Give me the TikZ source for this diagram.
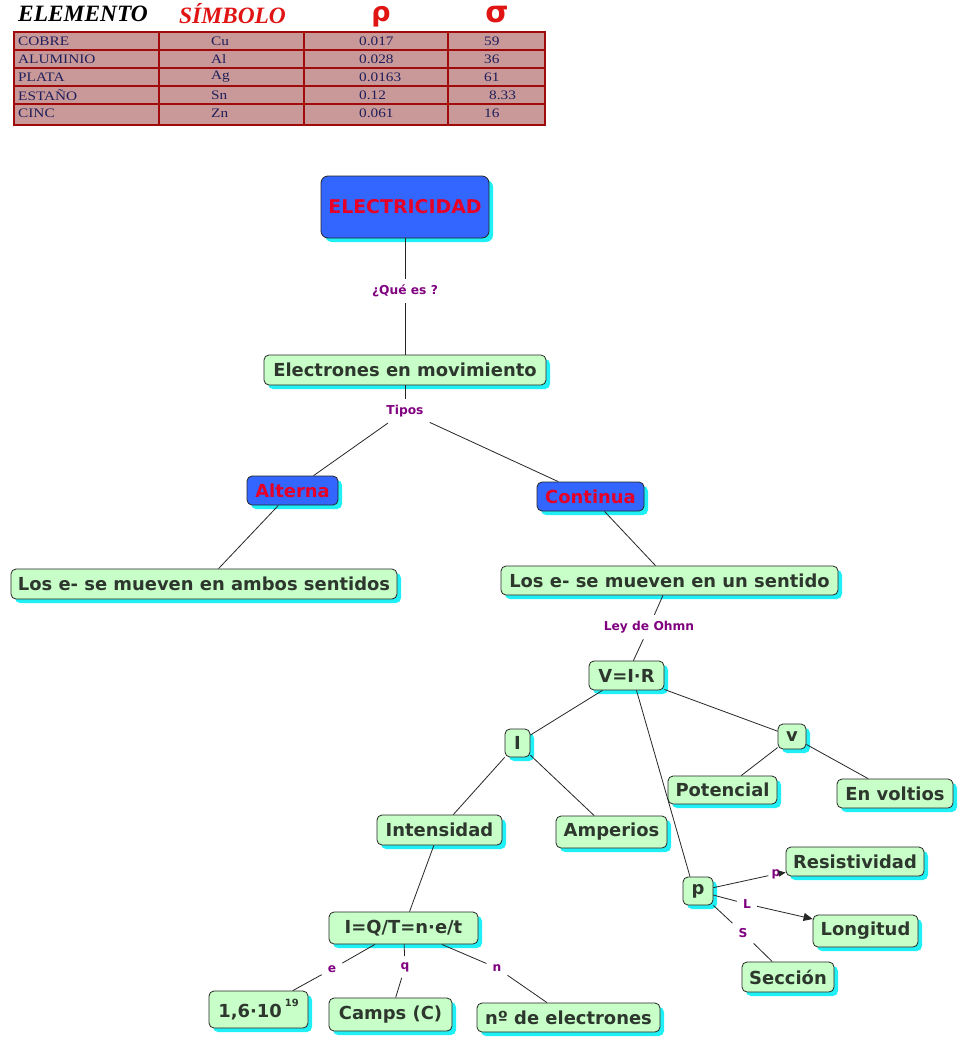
\documentclass[tikz,border=0pt]{standalone}
\usepackage{fontspec}
\setmainfont{DejaVu Sans}
\newfontfamily\tabfont[FakeStretch=1.18]{Liberation Serif}
\newfontfamily\headfont{Liberation Serif}
\usetikzlibrary{shadows,arrows.meta}
\definecolor{nodegreen}{RGB}{200,255,200}
\definecolor{nodeblue}{RGB}{51,102,255}
\definecolor{nodered}{RGB}{230,0,40}
\definecolor{shadowcyan}{RGB}{30,240,245}
\definecolor{lblpurple}{RGB}{128,0,128}
\definecolor{txtgray}{RGB}{45,55,45}
\definecolor{tabfill}{RGB}{201,153,153}
\definecolor{tabline}{RGB}{160,10,10}
\definecolor{tabtext}{RGB}{30,30,90}
\definecolor{headred}{RGB}{225,20,20}
\begin{document}
\begin{tikzpicture}[x=1bp,y=-1bp,
  concept/.style={draw=black!85, line width=0.8bp, rounded corners=5bp, fill=nodegreen, text=txtgray,
    font=\fontsize{18}{21}\selectfont\bfseries, inner sep=0pt,
    drop shadow={shadow xshift=4bp, shadow yshift=-4bp, fill=shadowcyan, opacity=1}},
  bluebox/.style={concept, fill=nodeblue, text=nodered},
  lbl/.style={text=lblpurple, font=\fontsize{12.3}{14}\selectfont\bfseries, inner sep=6bp},
  link/.style={draw=black!85, line width=0.8bp},
  arr/.style={link, -{Triangle[length=9bp,width=8bp]}},
  tab/.style={font=\tabfont\fontsize{13}{15}\selectfont, text=tabtext, anchor=west, inner sep=0pt},
  head/.style={font=\headfont\fontsize{23.5}{26}\selectfont\bfseries\itshape, anchor=west, inner sep=0pt},
  greek/.style={text=headred, anchor=base, inner sep=0pt, text height=14bp, text depth=4bp}
]
\fill[white] (0,0) rectangle (959,1039);
\useasboundingbox (0,0) rectangle (959,1039);

% ---- table ----
\node[head] (hElem) at (18,14) {ELEMENTO};
\node[head, text=headred] (hSim) at (179,14) {SÍMBOLO};
\node[greek, font=\fontsize{27}{29}\selectfont\bfseries] (hRho) at (381,21) {ρ};
\node[greek, font=\fontsize{30}{32}\selectfont\bfseries] (hSig) at (497,22) {σ};
\fill[tabfill] (14,32) rectangle (545,125);
\draw[tabline, line width=1.2bp] (14,50) -- (545,50) (14,68) -- (545,68) (14,86) -- (545,86) (14,104) -- (545,104);
\draw[tabline, line width=2bp] (159,32) -- (159,125) (304,32) -- (304,125) (448,32) -- (448,125);
\draw[tabline, line width=1.5bp] (14,32) rectangle (545,125);
\node[tab] (r1a) at (18,41) {COBRE};
\node[tab] (r1b) at (211,41) {Cu};
\node[tab] (r1c) at (359,41) {0.017};
\node[tab] (r1d) at (484,41) {59};
\node[tab] (r2a) at (18,59) {ALUMINIO};
\node[tab] (r2b) at (211,59) {Al};
\node[tab] (r2c) at (359,59) {0.028};
\node[tab] (r2d) at (484,59) {36};
\node[tab] (r3a) at (18,77) {PLATA};
\node[tab] (r3b) at (211,77) {Ag};
\node[tab] (r3c) at (359,77) {0.0163};
\node[tab] (r3d) at (484,77) {61};
\node[tab] (r4a) at (18,95) {ESTAÑO};
\node[tab] (r4b) at (211,95) {Sn};
\node[tab] (r4c) at (359,95) {0.12};
\node[tab] (r4d) at (489,95) {8.33};
\node[tab] (r5a) at (18,113) {CINC};
\node[tab] (r5b) at (211,113) {Zn};
\node[tab] (r5c) at (359,113) {0.061};
\node[tab] (r5d) at (484,113) {16};

% ---- concept map ----
\node[bluebox, minimum width=168bp, minimum height=62bp, rounded corners=7bp, font=\fontsize{19}{22}\selectfont\bfseries] (elec) at (405,207) {ELECTRICIDAD};
\node[lbl] (q1) at (405,291) {¿Qué es ?};
\node[concept, minimum width=282bp, minimum height=30bp] (mov) at (405,370) {Electrones en movimiento};
\node[lbl] (tipos) at (405,411) {Tipos};
\node[bluebox, minimum width=91bp, minimum height=29bp] (alt) at (292.5,490.5) {Alterna};
\node[bluebox, minimum width=107bp, minimum height=29bp] (cont) at (590.5,496.5) {Continua};
\node[concept, minimum width=386bp, minimum height=30bp] (ambos) at (204,584) {Los e- se mueven en ambos sentidos};
\node[concept, minimum width=337bp, minimum height=29bp] (uno) at (669.5,580.5) {Los e- se mueven en un sentido};
\node[lbl] (ohm) at (649,627) {Ley de Ohmn};
\node[concept, minimum width=75bp, minimum height=29bp] (vir) at (626.5,675.5) {V=I·R};
\node[concept, minimum width=25bp, minimum height=28bp] (i) at (517.5,743) {I};
\node[concept, minimum width=28bp, minimum height=25bp] (v) at (792,736.5) {v};
\node[concept, minimum width=109bp, minimum height=28bp] (pot) at (722.5,790) {Potencial};
\node[concept, minimum width=116bp, minimum height=29bp] (volt) at (895,793.5) {En voltios};
\node[concept, minimum width=125bp, minimum height=30bp] (int) at (439.5,830) {Intensidad};
\node[concept, minimum width=111bp, minimum height=32bp] (amp) at (611.5,832) {Amperios};
\node[concept, minimum width=30bp, minimum height=28bp] (p) at (698,891) {p};
\node[concept, minimum width=138bp, minimum height=29bp] (res) at (855,861.5) {Resistividad};
\node[concept, minimum width=105bp, minimum height=32bp] (lon) at (865.5,931) {Longitud};
\node[concept, minimum width=92bp, minimum height=30bp] (sec) at (788,977) {Sección};
\node[concept, minimum width=149bp, minimum height=32bp] (iq) at (403.5,928) {I=Q/T=n·e/t};
\node[concept, minimum width=99bp, minimum height=37bp] (carga) at (258.5,1009.5) {1,6·10\,\raisebox{1.2ex}{\fontsize{10}{10}\selectfont 19}};
\node[concept, minimum width=123bp, minimum height=33bp] (camps) at (390.5,1014.5) {Camps (C)};
\node[concept, minimum width=183bp, minimum height=29bp] (nelec) at (568.5,1017.5) {nº de electrones};

\node[lbl, inner sep=3bp] (pl) at (776,874) {p};
\node[lbl] (ll) at (747,904) {L};
\node[lbl] (sl) at (743,933) {S};
\node[lbl] (el) at (332,969) {e};
\node[lbl] (ql) at (405,967) {q};
\node[lbl] (nl) at (497,968) {n};

% ---- connectors ----
\draw[link] (elec) -- (q1);
\draw[link] (q1) -- (mov);
\draw[link] (mov) -- (tipos);
\draw[link] (tipos) -- (alt);
\draw[link] (tipos) -- (cont);
\draw[link] (alt) -- (ambos);
\draw[link] (cont) -- (uno);
\draw[link] (uno) -- (ohm);
\draw[link] (ohm) -- (vir);
\draw[link] (vir) -- (i);
\draw[link] (vir) -- (v);
\draw[link] ([xshift=10bp]vir.south) -- ([xshift=-8bp]p.north);
\draw[link] (i) -- (int);
\draw[link] (i) -- (amp);
\draw[link] (v) -- (pot);
\draw[link] (v) -- (volt);
\draw[link] (int) -- (iq);
\draw[link] (iq) -- (el);
\draw[link] (el) -- (carga);
\draw[link] (iq) -- (ql);
\draw[link] (ql) -- (camps);
\draw[link] (iq) -- (nl);
\draw[link] (nl) -- (nelec);
\draw[link] (p) -- (pl);
\draw[link, -{Triangle[length=7bp,width=6bp]}] (pl) -- (res);
\draw[link] (p) -- (ll);
\draw[arr] (ll) -- (lon);
\draw[link] (p) -- (sl);
\draw[link] (sl) -- (sec);
\end{tikzpicture}
\end{document}
